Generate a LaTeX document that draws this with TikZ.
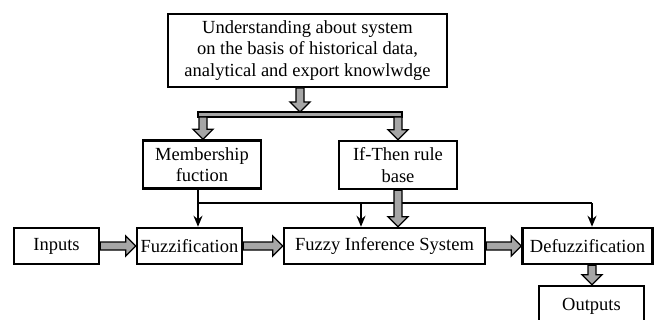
\documentclass[tikz,border=0pt]{standalone}
\usepackage{fontspec}
\setmainfont{Liberation Serif}
\usetikzlibrary{calc,arrows.meta}
\tikzset{
  box/.style={draw, line width=2.5pt, inner sep=0pt, align=center, fill=white,
    font=\fontsize{18.5}{21.5}\selectfont},
  blk/.style={draw=black, line width=1.3pt, fill=gray!70, line join=miter},
  thin/.style={draw=black, line width=2pt},
  thinarrow/.style={thin, -{Stealth[length=11pt,width=9pt]}}
}
\newcommand\bdown[2]{\path[blk] let \p1=(#1),\p2=(#2) in
  (\x1-4pt,\y1) -- (\x1-4pt,\y2+10pt) -- (\x1-10pt,\y2+10pt) -- (\x1,\y2)
  -- (\x1+10pt,\y2+10pt) -- (\x1+4pt,\y2+10pt) -- (\x1+4pt,\y1) -- cycle;}
\newcommand\bright[2]{\path[blk] let \p1=(#1),\p2=(#2) in
  (\x1,\y1-4pt) -- (\x2-10pt,\y1-4pt) -- (\x2-10pt,\y1-10pt) -- (\x2,\y1)
  -- (\x2-10pt,\y1+10pt) -- (\x2-10pt,\y1+4pt) -- (\x1,\y1+4pt) -- cycle;}
\begin{document}
\begin{tikzpicture}[x=1pt,y=-1pt]
\clip (0,0) rectangle (655,320);
\fill[white] (0,0) rectangle (655,320);
% nodes
\node[box, minimum width=279, minimum height=73] (top) at (307.5,50.5)
  {Understanding about system\\on the basis of historical data,\\analytical and export knowlwdge};
\node[box, minimum width=118, minimum height=48] (mem) at (202,164.5) {Membership\\fuction};
\node[box, minimum width=118, minimum height=48] (rule) at (398,165) {If-Then rule\\base};
\node[box, minimum width=85, minimum height=36] (in) at (56.5,246) {Inputs};
\node[box, minimum width=105, minimum height=36] (fuzz) at (189.5,246) {Fuzzification};
\node[box, minimum width=201, minimum height=36] (fis) at (384.5,246) {Fuzzy Inference System};
\node[box, minimum width=130, minimum height=36] (defuz) at (587.5,246) {Defuzzification};
\node[box, minimum width=105, minimum height=40] (out) at (591.5,306) {Outputs};
% coordinates
\coordinate (tsrc) at (300,88);
\coordinate (bar) at (300,112);
\coordinate (barL) at (198,112);
\coordinate (barR) at (402,117);
\coordinate (bl) at (203,117);
\coordinate (br) at (398,117);
\coordinate (j) at (198,203);
\coordinate (jf) at (361,203);
\coordinate (jd) at (592,203);
% gray distribution bar and block arrows
\bdown{tsrc}{bar}
\path[blk] (barL) rectangle (barR);
\bdown{bl}{mem.north}
\bdown{br}{rule.north}
% thin connectors
\draw[thin] (j) -- (jd);
\draw[thinarrow] (mem.south -| j) -- (j |- fuzz.north);
\draw[thinarrow] (jf) -- (jf |- fis.north);
\draw[thinarrow] (jd) -- (jd |- defuz.north);
% main flow
\bdown{rule.south}{fis.north}
\bright{in.east}{fuzz.west}
\bright{fuzz.east}{fis.west}
\bright{fis.east}{defuz.west}
\bdown{jd |- defuz.south}{out.north}
\end{tikzpicture}
\end{document}
